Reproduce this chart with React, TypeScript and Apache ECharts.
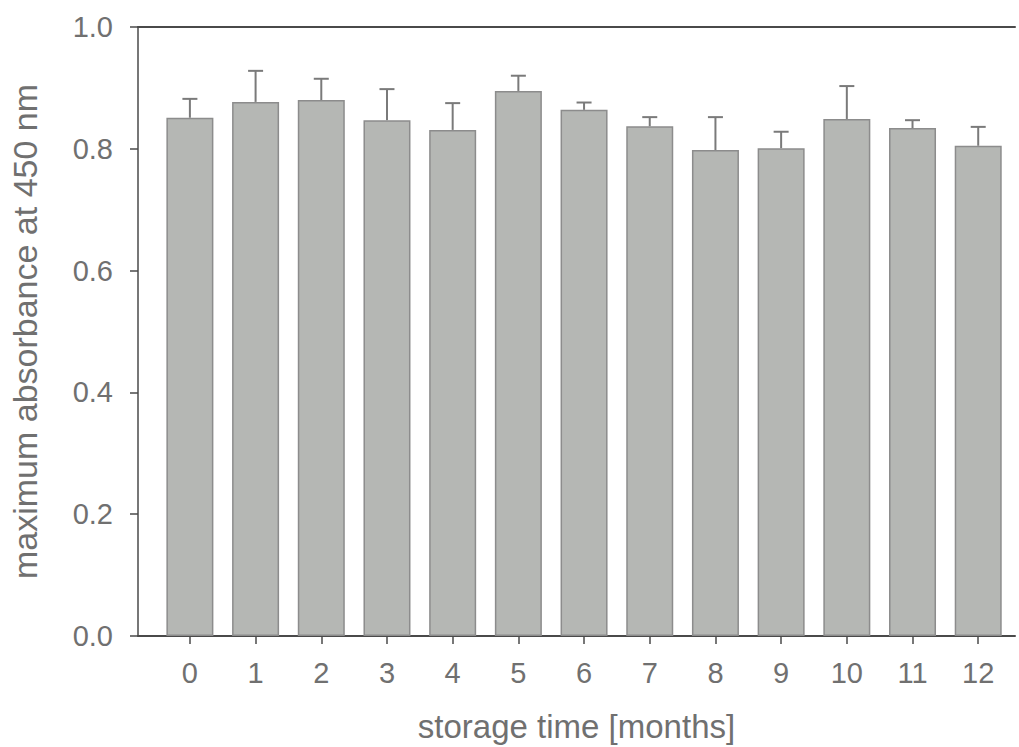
import React, { useEffect, useRef } from "react";
import * as echarts from "echarts";

const months = [0, 1, 2, 3, 4, 5, 6, 7, 8, 9, 10, 11, 12];
const meanAbs = [0.851, 0.877, 0.880, 0.847, 0.831, 0.895, 0.864, 0.837, 0.798, 0.801, 0.849, 0.834, 0.805];
const upperAbs = [0.882, 0.928, 0.915, 0.898, 0.875, 0.920, 0.876, 0.852, 0.852, 0.828, 0.903, 0.847, 0.836];
const yTicks = [0, 0.2, 0.4, 0.6, 0.8, 1.0];

const FONT = "'Liberation Sans', Arial, sans-serif";
const LABEL = "#707070";
const AXIS = "#4a4a4a";

export default function App() {
  const ref = useRef<HTMLDivElement>(null);
  useEffect(() => {
    if (!ref.current) return;
    const chart = echarts.init(ref.current, undefined, { renderer: "svg" });
    const barData = months.map((m, i) => [m, meanAbs[i]]);
    const errData = months.map((m, i) => [m, meanAbs[i], upperAbs[i]]);
    chart.setOption({
      animation: false,
      backgroundColor: "#ffffff",
      grid: { left: 138, right: 4, top: 27, bottom: 111, outerBoundsMode: "none", containLabel: false },
      xAxis: [
        {
          type: "value",
          min: -0.79,
          max: 12.56,
          splitLine: { show: false },
          axisLine: { show: true, onZero: false, lineStyle: { color: AXIS, width: 2 } },
          axisTick: { show: true, length: 8, customValues: months, lineStyle: { color: AXIS, width: 1.5 } },
          axisLabel: {
            customValues: months,
            color: LABEL,
            fontSize: 29,
            fontFamily: FONT,
            margin: 22,
          },
          name: "storage time [months]",
          nameLocation: "middle",
          nameGap: 72,
          nameTextStyle: { color: LABEL, fontSize: 33, fontFamily: FONT, lineHeight: 36 },
        },
        {
          type: "value",
          position: "top",
          min: -0.79,
          max: 12.56,
          splitLine: { show: false },
          axisLine: { show: true, onZero: false, lineStyle: { color: AXIS, width: 2 } },
          axisTick: { show: false },
          axisLabel: { show: false },
        },
      ],
      yAxis: {
        type: "value",
        min: 0,
        max: 1,
        interval: 0.2,
        splitLine: { show: false },
        axisLine: { show: true, onZero: false, lineStyle: { color: AXIS, width: 1.5 } },
        axisTick: { show: true, length: 8, lineStyle: { color: AXIS, width: 1.5 } },
        axisLabel: {
          color: LABEL,
          fontSize: 29,
          fontFamily: FONT,
          margin: 25,
          formatter: (v: number) => (yTicks.some((t) => Math.abs(t - v) < 1e-9) ? v.toFixed(1) : ""),
        },
        name: "maximum absorbance at 450 nm",
        nameLocation: "middle",
        nameGap: 96,
        nameTextStyle: { color: LABEL, fontSize: 34, fontFamily: FONT },
      },
      series: [
        {
          type: "bar",
          data: barData,
          barWidth: 47,
          itemStyle: { color: "#b5b7b4", borderColor: "#8c8c8c", borderWidth: 1.5 },
          z: 2,
        },
        {
          type: "custom",
          data: errData,
          z: 3,
          renderItem: (params: any, api: any) => {
            const x = api.value(0);
            const lo = api.coord([x, api.value(1)]);
            const hi = api.coord([x, api.value(2)]);
            const half = 7.5;
            const style = { stroke: "#7a7a7a", lineWidth: 2 };
            return {
              type: "group",
              children: [
                { type: "line", shape: { x1: lo[0], y1: lo[1], x2: hi[0], y2: hi[1] }, style },
                { type: "line", shape: { x1: hi[0] - half, y1: hi[1], x2: hi[0] + half, y2: hi[1] }, style },
              ],
            };
          },
        },
      ],
    });
    return () => chart.dispose();
  }, []);
  return <div ref={ref} style={{ width: 1019, height: 747, position: "absolute", left: 0, top: 0 }} />;
}
